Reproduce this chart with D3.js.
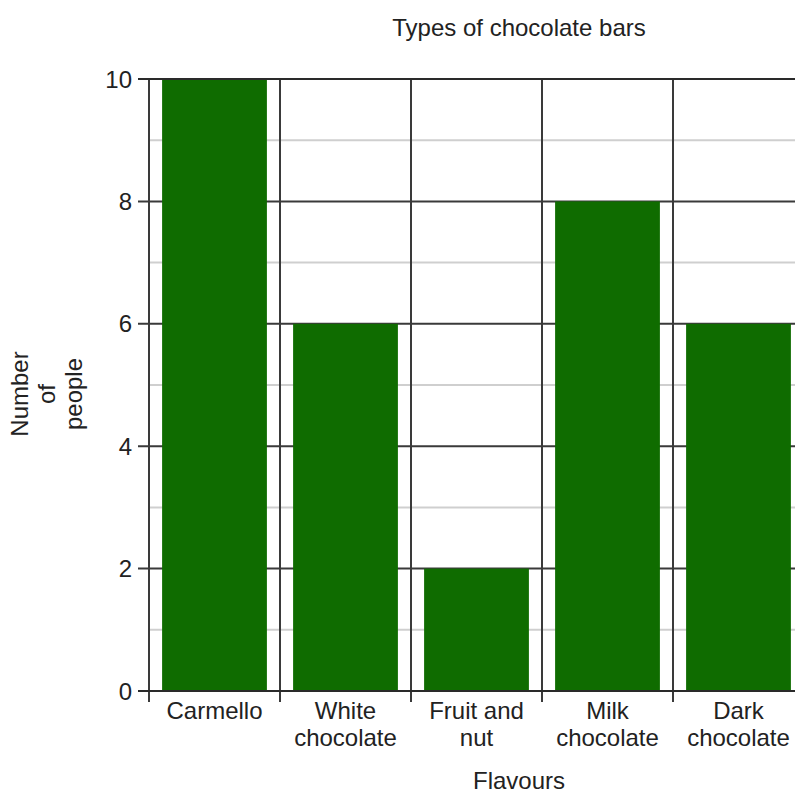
<!DOCTYPE html>
<html>
<head>
<meta charset="utf-8">
<script src="https://cdn.jsdelivr.net/npm/d3@7"></script>
<style>
  html, body { margin: 0; padding: 0; background: #fff; }
  svg { display: block; }
  text { font-family: "Liberation Sans", Arial, sans-serif; fill: #222; }
</style>
</head>
<body>
<script>
const categories = [["Carmello"], ["White", "chocolate"], ["Fruit and", "nut"], ["Milk", "chocolate"], ["Dark", "chocolate"]];
const values = [10, 6, 2, 8, 6];
const yTicks = [0, 2, 4, 6, 8, 10];
const yMinor = [1, 3, 5, 7, 9];
const title = "Types of chocolate bars";
const xTitle = "Flavours";
const yTitle = ["Number", "of", "people"];

const W = 795, H = 794;
const svg = d3.select("body").append("svg").attr("width", W).attr("height", H);

const keys = categories.map(c => c.join(" "));
const x = d3.scaleBand().domain(keys).range([149, 804]).paddingInner(0.2).paddingOuter(0.1);
const y = d3.scaleLinear().domain([0, 10]).range([691, 79]);
const step = x.step();
const x0 = x.range()[0], x1 = x.range()[1];

// minor gridlines
svg.append("g").selectAll("line").data(yMinor).join("line")
  .attr("x1", x0).attr("x2", x1).attr("y1", d => y(d)).attr("y2", d => y(d))
  .attr("stroke", "#cfcfcf").attr("stroke-width", 2);

// major gridlines + ticks
svg.append("g").selectAll("line").data(yTicks).join("line")
  .attr("x1", x0 - 11).attr("x2", x1).attr("y1", d => y(d)).attr("y2", d => y(d))
  .attr("stroke", "#3a3a3a").attr("stroke-width", 2);

// vertical boundaries
const bounds = d3.range(keys.length + 1).map(i => x0 + i * step);
svg.append("g").selectAll("line").data(bounds).join("line")
  .attr("x1", d => d).attr("x2", d => d).attr("y1", y(10)).attr("y2", y(0) + 11)
  .attr("stroke", "#3a3a3a").attr("stroke-width", 2);

// bars
svg.append("g").selectAll("rect").data(values).join("rect")
  .attr("x", (d, i) => x(keys[i]))
  .attr("width", x.bandwidth())
  .attr("y", d => y(d))
  .attr("height", d => y(0) - y(d))
  .attr("fill", "#0f6c00");

// top and bottom lines over bars
svg.append("g").selectAll("line").data([0, 10]).join("line")
  .attr("x1", x0 - 11).attr("x2", x1).attr("y1", d => y(d)).attr("y2", d => y(d))
  .attr("stroke", "#2a2a2a").attr("stroke-width", 2);

// y tick labels
svg.append("g").selectAll("text").data(yTicks).join("text")
  .attr("x", 132).attr("y", d => y(d) + 8.5)
  .attr("text-anchor", "end").attr("font-size", 24)
  .text(d => d);

// x labels
const xl = svg.append("g").selectAll("text").data(categories).join("text")
  .attr("text-anchor", "middle").attr("font-size", 24)
  .attr("transform", (d, i) => `translate(${x(keys[i]) + x.bandwidth() / 2},719)`);
xl.selectAll("tspan").data(d => d).join("tspan")
  .attr("x", 0).attr("y", (d, i) => i * 27).text(d => d);

// title
svg.append("text").attr("x", 519).attr("y", 36).attr("text-anchor", "middle")
  .attr("font-size", 24).text(title);

// x title
svg.append("text").attr("x", 519).attr("y", 789).attr("text-anchor", "middle")
  .attr("font-size", 24).text(xTitle);

// y title
const yt = svg.append("text").attr("text-anchor", "middle").attr("font-size", 24)
  .attr("transform", "translate(28,394) rotate(-90)");
yt.selectAll("tspan").data(yTitle).join("tspan")
  .attr("x", 0).attr("y", (d, i) => i * 27).text(d => d);
</script>
</body>
</html>
